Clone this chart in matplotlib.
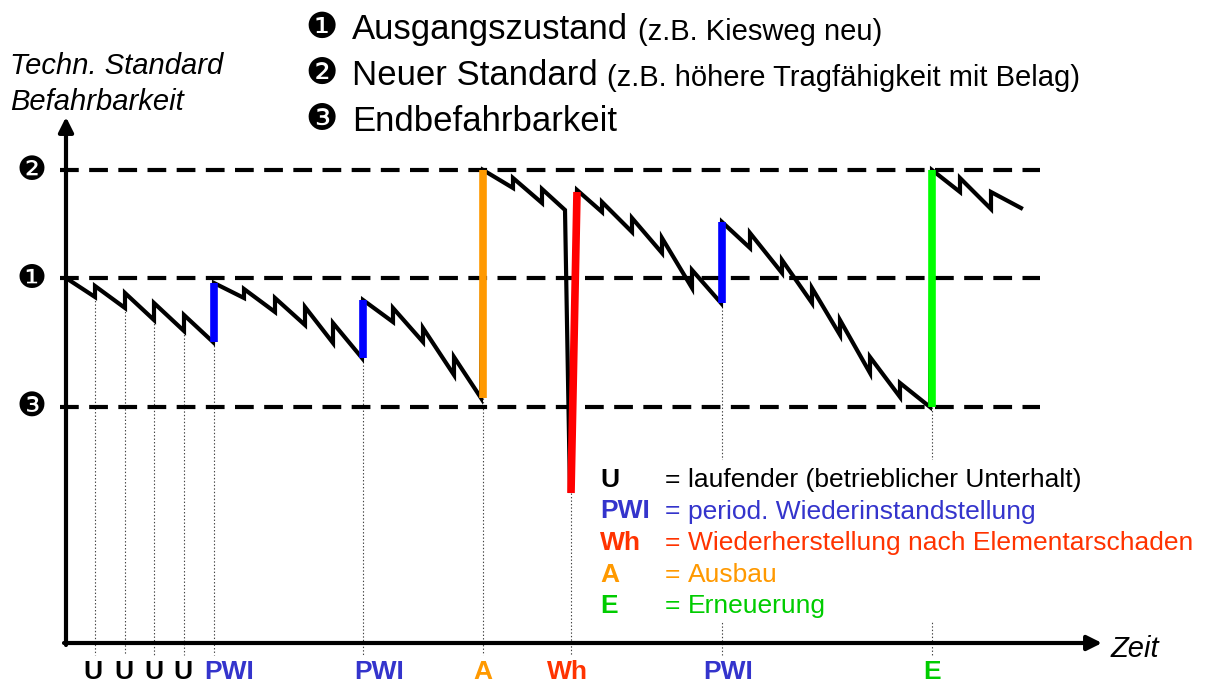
import matplotlib.pyplot as plt
from matplotlib.patches import Rectangle

plt.rcParams['font.family'] = ['Liberation Sans', 'DejaVu Sans']
plt.rcParams['lines.scale_dashes'] = False

# Zeit (t) und Befahrbarkeit (s) in Diagrammeinheiten
levels = {'❷': 473, '❶': 365, '❸': 236}

verlauf_t = [0, 29, 29, 59, 59, 88, 88, 118, 118, 147, 148,
             178, 178, 209, 209, 239, 239, 267, 267, 296, 297,
             327, 327, 357, 357, 388, 388, 415, 417,
             447, 447, 476, 476, 499, 504, 511,
             536, 536, 566, 566, 596, 596, 626, 626, 655, 656,
             684, 684, 716, 716, 746, 746, 774, 774, 804, 804, 834, 834, 864, 866,
             894, 894, 925, 925, 955]
verlauf_s = [365, 346, 357, 335, 350, 323, 340, 312, 328, 301, 360,
             345, 354, 331, 345, 318, 336, 300, 320, 285, 343,
             321, 335, 301, 315, 268, 286, 245, 473,
             455, 465, 440, 454, 433, 150, 453,
             431, 441, 411, 425, 390, 405, 355, 373, 340, 421,
             395, 410, 370, 383, 340, 355, 308, 323, 270, 286, 246, 260, 236, 473,
             451, 465, 434, 451, 435]

# Massnahmen: Typ, Zeitpunkt unten/oben, Zustand vorher/nachher
massn_typ = ['PWI', 'PWI', 'A', 'Wh', 'PWI', 'E']
massn_t0 = [148, 297, 417, 505, 656, 866]
massn_t1 = [148, 297, 417, 511, 656, 866]
massn_s0 = [301, 285, 245, 150, 340, 236]
massn_s1 = [360, 343, 473, 451, 421, 473]
linien_farbe = {'PWI': '#0000ff', 'A': '#ff9900', 'Wh': '#ff0000', 'E': '#00ff00'}
text_farbe = {'U': 'black', 'PWI': '#3434cc', 'A': '#ff9900', 'Wh': '#ff3300', 'E': '#00cc00'}

# Unterhalt (U)
u_t = [29, 59, 88, 118]
u_s = [346, 335, 323, 312]
label_t = [27, 58, 88, 117, 163, 313, 417, 501, 662, 866]
label_txt = ['U', 'U', 'U', 'U', 'PWI', 'PWI', 'A', 'Wh', 'PWI', 'E']

kopf = [('❶', 'Ausgangszustand', '(z.B. Kiesweg neu)'),
        ('❷', 'Neuer Standard', '(z.B. höhere Tragfähigkeit mit Belag)'),
        ('❸', 'Endbefahrbarkeit', '')]

legende_key = ['U', 'PWI', 'Wh', 'A', 'E']
legende_txt = ['laufender (betrieblicher Unterhalt)', 'period. Wiederinstandstellung',
               'Wiederherstellung nach Elementarschaden', 'Ausbau', 'Erneuerung']

fig = plt.figure(figsize=(12.06, 6.84), dpi=100)
ax = fig.add_axes([0, 0, 1, 1])
ax.set_xlim(-66, 1140)
ax.set_ylim(-41, 643)
ax.axis('off')

# gepunktete Hilfslinien zur Zeitachse
for t, s in zip(u_t, u_s):
    ax.plot([t, t], [s, -12], color='#444444', lw=0.8, ls=(0, (1, 1.5)), zorder=1)
for t, s in zip(massn_t0, massn_s0):
    ax.plot([t, t], [s, -12], color='#444444', lw=0.8, ls=(0, (1, 1.5)), zorder=1)

# Legendenfeld (verdeckt Hilfslinien)
ax.add_patch(Rectangle((525, 21), 610, 162, facecolor='white', edgecolor='none', zorder=2))

# Niveaus
for sym, s in levels.items():
    ax.plot([-6, 974], [s, s], color='black', lw=3, dashes=(13.5, 7.5), zorder=3)
    ax.text(-35, s, sym, fontsize=24, ha='center', va='center', family='DejaVu Sans')

# Zustandsverlauf
ax.plot(verlauf_t, verlauf_s, color='black', lw=3, solid_joinstyle='miter', zorder=4)
for typ, t0, t1, s0, s1 in zip(massn_typ, massn_t0, massn_t1, massn_s0, massn_s1):
    ax.plot([t0, t1], [s0, s1], color=linien_farbe[typ], lw=5.5, solid_capstyle='butt', zorder=5)

# Achsen
ax.annotate('', xy=(0, 526), xytext=(0, -2),
            arrowprops=dict(arrowstyle='-|>', lw=3, color='black', mutation_scale=22, shrinkA=0, shrinkB=0),
            zorder=6)
ax.annotate('', xy=(1036, 0), xytext=(-2, 0),
            arrowprops=dict(arrowstyle='-|>', lw=3, color='black', mutation_scale=22, shrinkA=0, shrinkB=0),
            zorder=6)
ax.text(1045, -6, 'Zeit', fontsize=21, style='italic', ha='left', va='center')
ax.text(-56, 577, 'Techn. Standard', fontsize=21, style='italic', ha='left', va='center')
ax.text(-56, 541, 'Befahrbarkeit', fontsize=21, style='italic', ha='left', va='center')

# Beschriftung der Massnahmen
for t, txt in zip(label_t, label_txt):
    ax.text(t, -29, txt, fontsize=19, fontweight='bold', color=text_farbe[txt],
            ha='center', va='center')

# Kopflegende
for i, (sym, haupt, zusatz) in enumerate(kopf):
    y = 604 - i * 46
    ax.text(256, y + 1, sym, fontsize=26, ha='center', va='baseline', family='DejaVu Sans')
    h = ax.text(286, y, haupt, fontsize=25, ha='left', va='baseline')
    if zusatz:
        ax.annotate(zusatz, xy=(1, 0), xycoords=h, xytext=(7, 0), textcoords='offset points',
                    fontsize=21, ha='left', va='bottom')

# Legende unten rechts
for i, (key, txt) in enumerate(zip(legende_key, legende_txt)):
    y = 163 - i * 31.5
    c = text_farbe[key]
    ax.text(534, y, key, fontsize=19, fontweight='bold', color=c, ha='left', va='center', zorder=7)
    ax.text(599, y, '=', fontsize=19, color=c, ha='left', va='center', zorder=7)
    ax.text(622, y, txt, fontsize=19, color=c, ha='left', va='center', zorder=7)

fig.savefig('out.png', dpi=100)
